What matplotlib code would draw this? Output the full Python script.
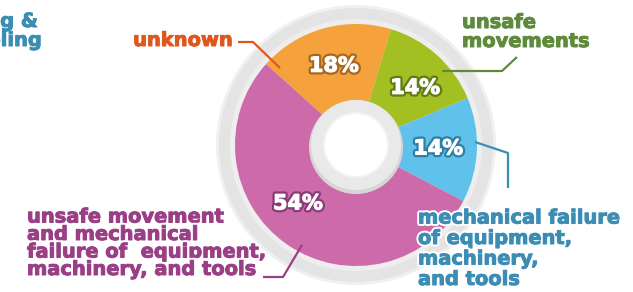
import numpy as np
import matplotlib
matplotlib.use("Agg")
import matplotlib.pyplot as plt
import matplotlib.patheffects as pe
from matplotlib.patches import Circle

# Donut slices, clockwise from the upper left
categories = [
    "unknown",
    "unsafe\nmovements",
    "mechanical failure\nof equipment,\nmachinery,\nand tools",
    "unsafe movement\nand mechanical\nfailure of  equipment,\nmachinery, and tools",
]
shares = [18, 14, 14, 54]
slice_colors = ["#f5a23c", "#a3bf21", "#60c1ea", "#cd6aaa"]
text_colors = ["#df571e", "#5e8b3b", "#3b8db4", "#9a3f86"]
pct_edges = ["#a8661f", "#5f7d12", "#2f7ea3", "#8b3a79"]
cut_label = "coupling &\nuncoupling"  # only its tail shows at the left edge

# Layout, in pixels (y up); label y is the baseline of the last line
CX, CY, R = 356, 147, 121
label_pos = [(233, 246, "right", 1.0), (462, 245, "left", 1.0),
             (418, 7, "left", 1.1), (27, 17, "left", 0.9)]
pct_shift = [0, -4, 0, -10]  # degrees, nudges the percent labels along the ring
leaders = [
    [(238, 250), (253, 250), (280, 224)],
    [(517, 235), (502, 221), (442, 221)],
    [(475, 150), (508, 139), (508, 104)],
    [(263, 15), (283, 15), (302, 47)],
]

fig = plt.figure(figsize=(6.33, 2.92), dpi=100)
ax = fig.add_axes([0, 0, 1, 1])

# grey outer rim
ax.add_patch(Circle((CX, CY), 140, fc="#f0f0f0", ec="none", zorder=0))
ax.add_patch(Circle((CX, CY), 137, fc="#e4e4e4", ec="none", zorder=0))
ax.add_patch(Circle((CX, CY), 126, fc="#eeeeee", ec="none", zorder=0))

wedges, _, pcts = ax.pie(
    shares, colors=slice_colors, startangle=138, counterclock=False,
    center=(CX, CY), radius=R, autopct=lambda p: f"{p:.0f}%",
    pctdistance=0.68, wedgeprops=dict(linewidth=0), frame=True,
)
for t, edge, shift in zip(pcts, pct_edges, pct_shift):
    x, y = t.get_position()
    a = np.arctan2(y - CY, x - CX) + np.radians(shift)
    r = np.hypot(x - CX, y - CY)
    t.set_position((CX + r * np.cos(a), CY + r * np.sin(a)))
    t.set(color="white", fontsize=15, fontweight="bold", zorder=4)
    t.set_path_effects([pe.Stroke(linewidth=4, foreground=edge),
                        pe.Stroke(linewidth=0.8, foreground="white"), pe.Normal()])

# bevelled hole in the middle
ax.add_patch(Circle((CX, CY - 2), 47, fc="#d6d6d6", ec="none", zorder=2))
ax.add_patch(Circle((CX, CY), 45, fc="#e9e9e9", ec="none", zorder=2))
ax.add_patch(Circle((CX, CY), 33, fc="#f3f3f3", ec="none", zorder=2))
ax.add_patch(Circle((CX, CY), 31, fc="white", ec="none", zorder=2))

for lbl, col, (x, y, ha, ls), pts in zip(categories, text_colors, label_pos, leaders):
    ax.text(x, y, lbl, color=col, fontsize=14, fontweight="bold", ha=ha,
            va="baseline", multialignment="left", linespacing=ls, zorder=5,
            path_effects=[pe.Stroke(linewidth=3.5, foreground="white"),
                          pe.Stroke(linewidth=0.7, foreground=col), pe.Normal()])
    xs, ys = zip(*pts)
    ax.plot(xs, ys, color=col, lw=1.6, solid_capstyle="butt", zorder=5)

ax.text(42, 246, cut_label, color=text_colors[2], fontsize=14, fontweight="bold",
        ha="right", va="baseline", multialignment="left", linespacing=1.0, zorder=5,
        path_effects=[pe.Stroke(linewidth=0.7, foreground=text_colors[2]), pe.Normal()])

ax.set_xlim(0, 633)
ax.set_ylim(0, 292)
ax.set_aspect("equal")
ax.axis("off")
fig.savefig("out.png", dpi=100)
